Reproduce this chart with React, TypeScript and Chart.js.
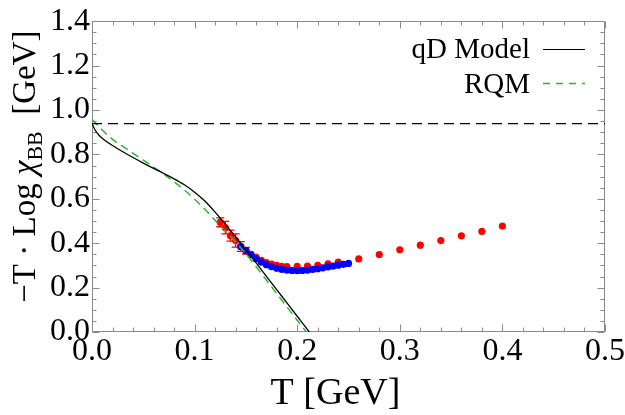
import { useEffect, useRef } from "react";
import { Chart, registerables } from "chart.js";

Chart.register(...registerables);

// Nucleon mass line [GeV]
const nucleonMass = 0.939;

// qD model curve
const qdT = [0, 0.003, 0.007, 0.012, 0.02, 0.03, 0.04, 0.05, 0.06, 0.07, 0.08, 0.09, 0.1, 0.11, 0.12, 0.13, 0.14, 0.15, 0.16, 0.17, 0.18, 0.19, 0.2, 0.21, 0.212];
const qdV = [0.939, 0.91, 0.885, 0.865, 0.84, 0.812, 0.786, 0.761, 0.737, 0.714, 0.69, 0.663, 0.63, 0.59, 0.54, 0.485, 0.428, 0.37, 0.311, 0.251, 0.191, 0.131, 0.071, 0.011, 0];

// RQM curve
const rqmT = [0, 0.01, 0.02, 0.03, 0.04, 0.05, 0.06, 0.07, 0.08, 0.09, 0.1, 0.11, 0.12, 0.13, 0.14, 0.15, 0.16, 0.17, 0.18, 0.19, 0.2, 0.209];
const rqmV = [0.958, 0.91, 0.868, 0.836, 0.805, 0.774, 0.743, 0.711, 0.677, 0.64, 0.598, 0.553, 0.503, 0.455, 0.405, 0.353, 0.294, 0.234, 0.173, 0.113, 0.053, 0];

// Lattice data, red set (with errors)
const redT = [0.125, 0.13, 0.135, 0.14, 0.145, 0.15, 0.155, 0.16, 0.165, 0.17, 0.175, 0.18, 0.185, 0.19, 0.2, 0.21, 0.22, 0.23, 0.24, 0.26, 0.28, 0.3, 0.32, 0.34, 0.36, 0.38, 0.4];
const redV = [0.494, 0.47, 0.434, 0.412, 0.385, 0.366, 0.35, 0.336, 0.323, 0.313, 0.306, 0.3, 0.296, 0.295, 0.296, 0.297, 0.3, 0.307, 0.315, 0.329, 0.349, 0.37, 0.391, 0.412, 0.433, 0.453, 0.477];
const redErr = [0.02, 0.028, 0.025, 0.03, 0.022, 0.015, 0.01, 0.008, 0.006, 0.005, 0.004, 0.004, 0.004, 0.004, 0.004, 0.004, 0.004, 0.004, 0.004, 0.004, 0.004, 0.004, 0.004, 0.004, 0.004, 0.004, 0.005];

// Lattice data, blue set
const blueT = [0.145, 0.15, 0.155, 0.16, 0.165, 0.17, 0.175, 0.18, 0.185, 0.19, 0.195, 0.2, 0.205, 0.21, 0.215, 0.22, 0.225, 0.23, 0.235, 0.24, 0.245, 0.25];
const blueV = [0.385, 0.367, 0.348, 0.33, 0.315, 0.303, 0.294, 0.287, 0.282, 0.279, 0.277, 0.276, 0.277, 0.279, 0.282, 0.285, 0.289, 0.293, 0.297, 0.301, 0.305, 0.309];

// Axis ticks
const xTicks = [0, 0.1, 0.2, 0.3, 0.4, 0.5];
const yTicks = [0, 0.2, 0.4, 0.6, 0.8, 1.0, 1.2, 1.4];
const xMinorStep = 0.02;
const yMinorStep = 0.05;

const SERIF = "'Liberation Serif', 'DejaVu Serif', serif";
const GREEN = "#2fb52f";

const pts = (xs: number[], ys: number[]) => xs.map((x, i) => ({ x, y: ys[i] }));

const frameTicksPlugin = {
  id: "frameTicks",
  beforeDatasetsDraw(chart: any) {
    const { ctx, chartArea: a, scales } = chart;
    const xs = scales.x;
    const ys = scales.y;
    const L = Math.round(a.left) + 0.5;
    const R = Math.round(a.right) - 0.5;
    const T = Math.round(a.top) + 0.5;
    const B = Math.round(a.bottom) - 0.5;
    ctx.save();
    ctx.strokeStyle = "#8a8a8a";
    ctx.lineWidth = 1;
    ctx.strokeRect(L, T, R - L, B - T);
    ctx.beginPath();
    const xMax = xTicks[xTicks.length - 1];
    const yMax = yTicks[yTicks.length - 1];
    for (let i = 0; i * xMinorStep <= xMax + 1e-9; i++) {
      const v = i * xMinorStep;
      const major = i % 5 === 0;
      const len = major ? 7 : 4;
      const px = Math.round(xs.getPixelForValue(v)) + 0.5;
      ctx.moveTo(px, B);
      ctx.lineTo(px, B - len);
      ctx.moveTo(px, T);
      ctx.lineTo(px, T + len);
    }
    for (let i = 0; i * yMinorStep <= yMax + 1e-9; i++) {
      const v = i * yMinorStep;
      const major = i % 4 === 0;
      const len = major ? 7 : 4;
      const py = Math.round(ys.getPixelForValue(v)) + 0.5;
      ctx.moveTo(L, py);
      ctx.lineTo(L + len, py);
      ctx.moveTo(R, py);
      ctx.lineTo(R - len, py);
    }
    ctx.stroke();

    // error bars on the red set
    ctx.strokeStyle = "#ff0000";
    ctx.lineWidth = 1.3;
    ctx.beginPath();
    redT.forEach((t, i) => {
      const e = redErr[i];
      const px = xs.getPixelForValue(t);
      const y1 = ys.getPixelForValue(redV[i] + e);
      const y2 = ys.getPixelForValue(redV[i] - e);
      ctx.moveTo(px, y1);
      ctx.lineTo(px, y2);
      if (y2 - y1 > 6) {
        ctx.moveTo(px - 4, y1);
        ctx.lineTo(px + 4, y1);
        ctx.moveTo(px - 4, y2);
        ctx.lineTo(px + 4, y2);
      }
    });
    ctx.stroke();
    ctx.restore();
  },
};

const labelsPlugin = {
  id: "labels",
  afterDraw(chart: any) {
    const { ctx, chartArea: a } = chart;
    ctx.save();
    ctx.fillStyle = "#000";

    // x axis title
    ctx.font = `38px ${SERIF}`;
    ctx.textAlign = "center";
    ctx.textBaseline = "alphabetic";
    ctx.fillText("T [GeV]", (a.left + a.right) / 2 - 13, 404);

    // y axis title, rotated, with subscript
    const parts: { text: string; font: string; dy: number }[] = [
      { text: "\u2212T \u00b7 Log ", font: `33px ${SERIF}`, dy: 0 },
      { text: "\u03c7", font: `italic 33px ${SERIF}`, dy: 0 },
      { text: "BB", font: `22px ${SERIF}`, dy: 7 },
      { text: "  [GeV]", font: `33px ${SERIF}`, dy: 0 },
    ];
    let total = 0;
    parts.forEach((p) => {
      ctx.font = p.font;
      total += ctx.measureText(p.text).width;
    });
    ctx.translate(35, (a.top + a.bottom) / 2 - 10);
    ctx.rotate(-Math.PI / 2);
    ctx.textAlign = "left";
    let cx = -total / 2;
    parts.forEach((p) => {
      ctx.font = p.font;
      ctx.fillText(p.text, cx, p.dy);
      cx += ctx.measureText(p.text).width;
    });
    ctx.restore();

    // legend
    ctx.save();
    ctx.font = `29px ${SERIF}`;
    ctx.fillStyle = "#000";
    ctx.textAlign = "right";
    ctx.textBaseline = "alphabetic";
    ctx.fillText("qD Model", 530, 58);
    ctx.fillText("RQM", 530, 93);
    ctx.strokeStyle = "#000";
    ctx.lineWidth = 1.2;
    ctx.beginPath();
    ctx.moveTo(543, 49.5);
    ctx.lineTo(585, 49.5);
    ctx.stroke();
    ctx.strokeStyle = GREEN;
    ctx.lineWidth = 1.4;
    ctx.setLineDash([7, 6]);
    ctx.beginPath();
    ctx.moveTo(543, 83.5);
    ctx.lineTo(585, 83.5);
    ctx.stroke();
    ctx.restore();
  },
};

export default function App() {
  const ref = useRef<HTMLCanvasElement>(null);
  useEffect(() => {
    document.body.style.margin = "0";
    const chart = new Chart(ref.current!, {
      type: "scatter",
      data: {
        datasets: [
          {
            label: "mN",
            data: pts([0, 0.5], [nucleonMass, nucleonMass]),
            showLine: true,
            borderColor: "#000",
            borderWidth: 1.3,
            borderDash: [10, 6],
            pointRadius: 0,
            order: 0,
          },
          {
            label: "qD Model",
            data: pts(qdT, qdV),
            showLine: true,
            borderColor: "#000",
            borderWidth: 1.3,
            cubicInterpolationMode: "monotone",
            pointRadius: 0,
            order: 1,
          },
          {
            label: "RQM",
            data: pts(rqmT, rqmV),
            showLine: true,
            borderColor: GREEN,
            borderWidth: 1.5,
            borderDash: [8, 5],
            cubicInterpolationMode: "monotone",
            pointRadius: 0,
            order: 1,
          },
          {
            label: "blue",
            data: pts(blueT, blueV),
            backgroundColor: "#0000ff",
            borderWidth: 0,
            pointRadius: 3.6,
            order: 2,
          },
          {
            label: "red",
            data: pts(redT, redV),
            backgroundColor: "#ff0000",
            borderWidth: 0,
            pointRadius: 3.6,
            order: 3,
          },
        ],
      } as any,
      options: {
        animation: false,
        responsive: false,
        devicePixelRatio: 1,
        layout: { padding: { top: 15, right: 20, left: 0, bottom: 0 } },
        plugins: { legend: { display: false }, tooltip: { enabled: false } },
        scales: {
          x: {
            type: "linear",
            min: 0,
            max: 0.5,
            grid: { display: false, drawTicks: false },
            border: { display: false },
            afterBuildTicks: (s: any) => {
              s.ticks = xTicks.map((value) => ({ value }));
            },
            afterFit: (s: any) => {
              s.height = 83;
            },
            ticks: {
              padding: 0,
              color: "#000",
              font: { family: SERIF, size: 32 },
              maxRotation: 0,
              callback: (v: any) => Number(v).toFixed(1),
            },
          },
          y: {
            type: "linear",
            min: 0,
            max: 1.4,
            grid: { display: false, drawTicks: false },
            border: { display: false },
            afterBuildTicks: (s: any) => {
              s.ticks = yTicks.map((value) => ({ value }));
            },
            afterFit: (s: any) => {
              s.width = 92;
            },
            ticks: {
              padding: 2,
              color: "#000",
              font: { family: SERIF, size: 32 },
              callback: (v: any) => Number(v).toFixed(1),
            },
          },
        },
      } as any,
      plugins: [frameTicksPlugin, labelsPlugin],
    });
    return () => chart.destroy();
  }, []);
  return (
    <div style={{ width: 625, height: 415 }}>
      <canvas ref={ref} width={625} height={415} style={{ display: "block" }} />
    </div>
  );
}
